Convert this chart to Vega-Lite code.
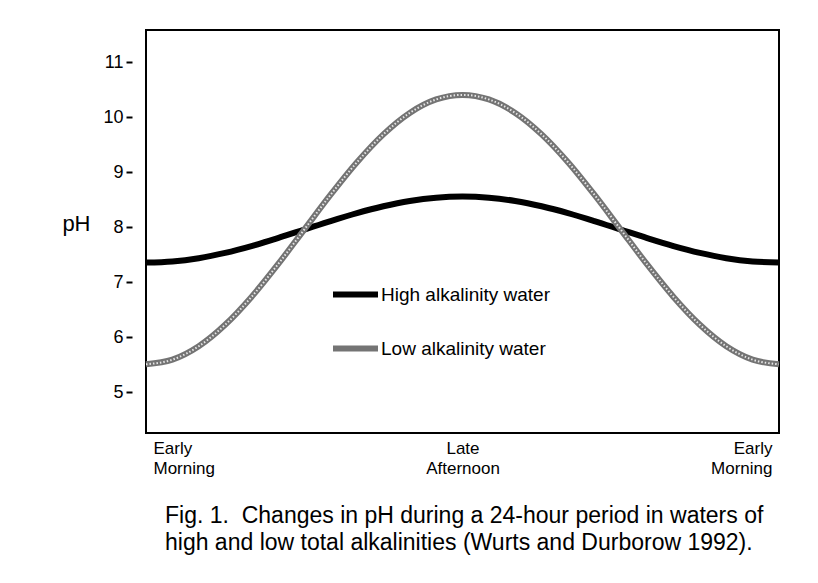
{
  "$schema": "https://vega.github.io/schema/vega-lite/v6.json",
  "width": 633,
  "height": 403,
  "autosize": {"type": "none"},
  "padding": {"left": 146, "top": 30, "right": 39, "bottom": 150},
  "background": "white",
  "config": {
    "font": "Liberation Sans",
    "view": {"stroke": "black", "strokeWidth": 2}
  },
  "title": {
    "text": ["Fig. 1.\u00a0 Changes in pH during a 24-hour period in waters of", "high and low total alkalinities (Wurts and Durborow 1992)."],
    "orient": "bottom",
    "anchor": "start",
    "frame": "group",
    "dx": 19,
    "offset": 29,
    "fontSize": 23,
    "fontWeight": "normal",
    "lineHeight": 27,
    "color": "black"
  },
  "data": {
    "values": [
      {"t": 0, "pH": 7.35, "series": "High alkalinity water"},
      {"t": 1, "pH": 7.37, "series": "High alkalinity water"},
      {"t": 2, "pH": 7.43, "series": "High alkalinity water"},
      {"t": 3, "pH": 7.526, "series": "High alkalinity water"},
      {"t": 4, "pH": 7.65, "series": "High alkalinity water"},
      {"t": 5, "pH": 7.795, "series": "High alkalinity water"},
      {"t": 6, "pH": 7.95, "series": "High alkalinity water"},
      {"t": 7, "pH": 8.105, "series": "High alkalinity water"},
      {"t": 8, "pH": 8.25, "series": "High alkalinity water"},
      {"t": 9, "pH": 8.374, "series": "High alkalinity water"},
      {"t": 10, "pH": 8.47, "series": "High alkalinity water"},
      {"t": 11, "pH": 8.53, "series": "High alkalinity water"},
      {"t": 12, "pH": 8.55, "series": "High alkalinity water"},
      {"t": 13, "pH": 8.53, "series": "High alkalinity water"},
      {"t": 14, "pH": 8.47, "series": "High alkalinity water"},
      {"t": 15, "pH": 8.374, "series": "High alkalinity water"},
      {"t": 16, "pH": 8.25, "series": "High alkalinity water"},
      {"t": 17, "pH": 8.105, "series": "High alkalinity water"},
      {"t": 18, "pH": 7.95, "series": "High alkalinity water"},
      {"t": 19, "pH": 7.795, "series": "High alkalinity water"},
      {"t": 20, "pH": 7.65, "series": "High alkalinity water"},
      {"t": 21, "pH": 7.526, "series": "High alkalinity water"},
      {"t": 22, "pH": 7.43, "series": "High alkalinity water"},
      {"t": 23, "pH": 7.37, "series": "High alkalinity water"},
      {"t": 24, "pH": 7.35, "series": "High alkalinity water"},
      {"t": 0, "pH": 5.5, "series": "Low alkalinity water"},
      {"t": 1, "pH": 5.584, "series": "Low alkalinity water"},
      {"t": 2, "pH": 5.828, "series": "Low alkalinity water"},
      {"t": 3, "pH": 6.218, "series": "Low alkalinity water"},
      {"t": 4, "pH": 6.725, "series": "Low alkalinity water"},
      {"t": 5, "pH": 7.316, "series": "Low alkalinity water"},
      {"t": 6, "pH": 7.95, "series": "Low alkalinity water"},
      {"t": 7, "pH": 8.584, "series": "Low alkalinity water"},
      {"t": 8, "pH": 9.175, "series": "Low alkalinity water"},
      {"t": 9, "pH": 9.682, "series": "Low alkalinity water"},
      {"t": 10, "pH": 10.072, "series": "Low alkalinity water"},
      {"t": 11, "pH": 10.317, "series": "Low alkalinity water"},
      {"t": 12, "pH": 10.4, "series": "Low alkalinity water"},
      {"t": 13, "pH": 10.317, "series": "Low alkalinity water"},
      {"t": 14, "pH": 10.072, "series": "Low alkalinity water"},
      {"t": 15, "pH": 9.682, "series": "Low alkalinity water"},
      {"t": 16, "pH": 9.175, "series": "Low alkalinity water"},
      {"t": 17, "pH": 8.584, "series": "Low alkalinity water"},
      {"t": 18, "pH": 7.95, "series": "Low alkalinity water"},
      {"t": 19, "pH": 7.316, "series": "Low alkalinity water"},
      {"t": 20, "pH": 6.725, "series": "Low alkalinity water"},
      {"t": 21, "pH": 6.218, "series": "Low alkalinity water"},
      {"t": 22, "pH": 5.828, "series": "Low alkalinity water"},
      {"t": 23, "pH": 5.584, "series": "Low alkalinity water"},
      {"t": 24, "pH": 5.5, "series": "Low alkalinity water"}
    ]
  },
  "encoding": {
    "x": {
      "field": "t",
      "type": "quantitative",
      "scale": {"domain": [0, 24], "nice": false, "zero": false},
      "axis": {
        "title": null,
        "values": [0, 12, 24],
        "labelExpr": "datum.value == 12 ? ['Late', 'Afternoon'] : ['Early', 'Morning']",
        "labelFlush": true,
        "labelFlushOffset": -7,
        "labelFontSize": 17,
        "labelLineHeight": 20,
        "labelColor": "black",
        "labelPadding": 7,
        "ticks": false,
        "domain": false,
        "grid": false
      }
    },
    "y": {
      "field": "pH",
      "type": "quantitative",
      "scale": {"domain": [4.25, 11.58], "nice": false, "zero": false},
      "axis": {
        "title": "pH",
        "titleAngle": 0,
        "titleAlign": "right",
        "titleBaseline": "alphabetic",
        "titleX": -42,
        "titleY": 200,
        "titleFontSize": 22,
        "titleFontWeight": "normal",
        "titleColor": "black",
        "values": [5, 6, 7, 8, 9, 10, 11],
        "offset": 14,
        "tickSize": 6,
        "tickWidth": 2,
        "tickColor": "black",
        "labelFontSize": 18,
        "labelColor": "black",
        "labelPadding": 3,
        "labelBaseline": "alphabetic",
        "labelOffset": 6,
        "domain": false,
        "grid": false
      }
    }
  },
  "layer": [
    {
      "mark": {"type": "line", "interpolate": "monotone", "strokeWidth": 6},
      "encoding": {
        "color": {
          "field": "series",
          "type": "nominal",
          "scale": {"domain": ["High alkalinity water", "Low alkalinity water"], "range": ["black", "#747474"]},
          "legend": {
            "title": null,
            "orient": "none",
            "legendX": 184,
            "legendY": 239,
            "symbolType": "stroke",
            "symbolSize": 2025,
            "symbolStrokeWidth": 6,
            "labelFontSize": 19,
            "labelLimit": 400,
            "labelColor": "black",
            "labelOffset": 0,
            "rowPadding": 16
          }
        }
      }
    },
    {
      "transform": [{"filter": "datum.series == 'Low alkalinity water'"}],
      "mark": {"type": "line", "interpolate": "monotone", "strokeWidth": 2, "strokeDash": [1.5, 2], "color": "#e6e6e6"},
      "encoding": {"detail": {"field": "series"}}
    }
  ]
}
